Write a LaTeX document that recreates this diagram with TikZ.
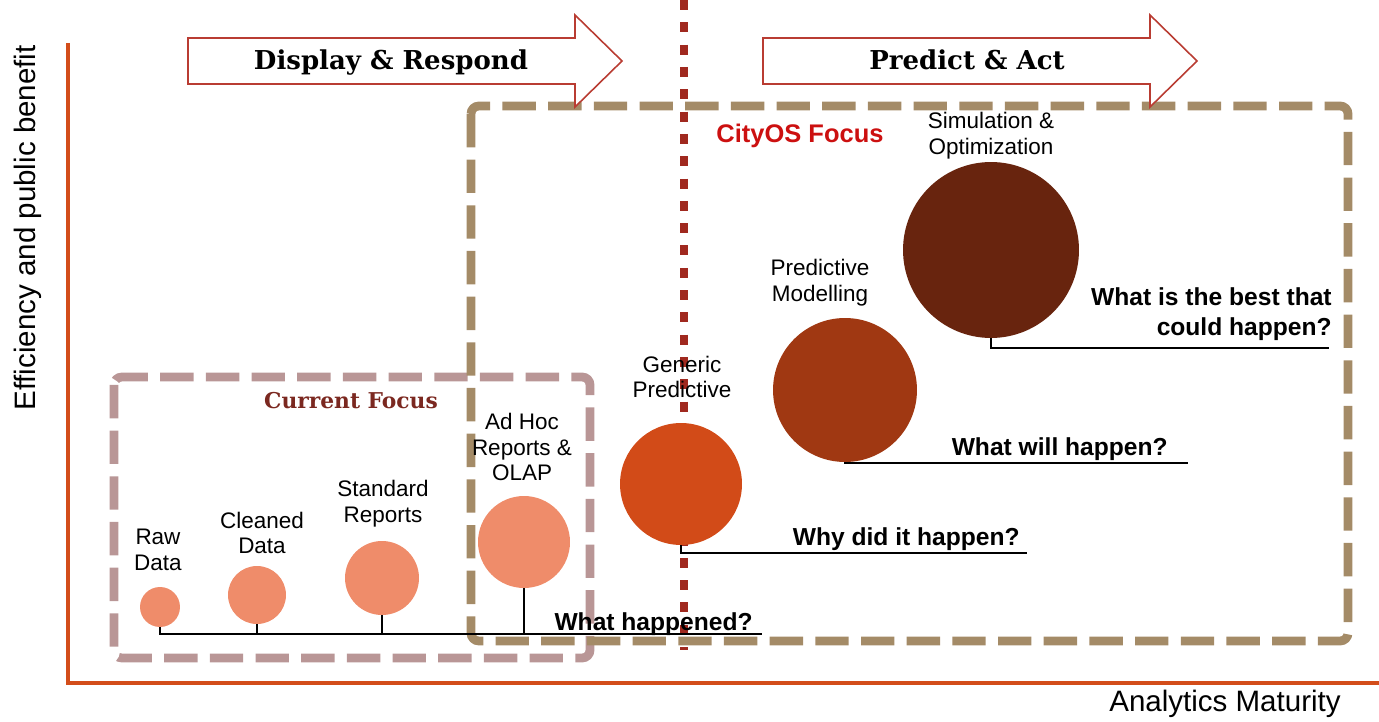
\documentclass[tikz,border=0pt]{standalone}
\usepackage{fontspec}
\setmainfont{Liberation Sans}
\newfontfamily\slabfont{DejaVu Serif}

\definecolor{axisorange}{RGB}{211,77,26}
\definecolor{arrowred}{RGB}{185,60,50}
\definecolor{dotred}{RGB}{160,41,31}
\definecolor{tanbrown}{RGB}{164,139,103}
\definecolor{mauve}{RGB}{185,150,150}
\definecolor{salmon}{RGB}{239,140,106}
\definecolor{rust}{RGB}{210,75,24}
\definecolor{brick}{RGB}{160,56,18}
\definecolor{chestnut}{RGB}{104,36,14}
\definecolor{cityred}{RGB}{204,16,16}
\definecolor{wine}{RGB}{123,40,32}

\tikzset{
	axis/.style={axisorange, line width=2.3pt},
	bigarrow/.style={draw=arrowred, fill=white, line width=0.9pt},
	divider/.style={dotred, line width=5pt, dash pattern=on 5.7pt off 7pt},
	focusbox/.style={line width=5pt, rounded corners=4.5pt, dash pattern=on 19pt off 7pt},
	bubble/.style={circle, inner sep=0pt, minimum size=#1},
	lbl/.style={align=center, font=\fontsize{12.8}{14.7}\selectfont},
	ask/.style={align=right, inner sep=0pt, font=\fontsize{14}{17}\selectfont\bfseries},
	stem/.style={black, line width=1.1pt},
	banner/.style={anchor=base, font=\fontsize{14.8}{17}\slabfont\bfseries}
}

\begin{document}
\begin{tikzpicture}[x=0.02cm, y=-0.02cm]
\useasboundingbox (0,0) rectangle (1379,722);

% axes
\draw [axis] (68,43) -- (68,683) -- (1379,683);
\node [rotate=90, font=\fontsize{16.8}{20}\selectfont] (yl) at (28,228) {Efficiency and public benefit};
\node [font=\fontsize{16.8}{20}\selectfont] (xl) at (1225,704) {Analytics Maturity};

% focus areas
\draw [focusbox, draw=mauve] (114,377) rectangle (590,658);
\draw [focusbox, draw=tanbrown] (471,106) rectangle (1348,641);
\node [font=\fontsize{12.4}{15}\slabfont\bfseries, text=wine] (cur) at (351,401) {Current Focus};
\node [font=\fontsize{14.5}{17}\selectfont\bfseries, text=cityred] (city) at (800,136) {CityOS Focus};

\draw [divider] (684,0) -- (684,650);

% phase arrows
\draw [bigarrow] (188,38) -- (575,38) -- (575,15) -- (622,61) -- (575,107) -- (575,84) -- (188,84) -- cycle;
\draw [bigarrow] (763,38) -- (1150,38) -- (1150,15) -- (1197,61) -- (1150,107) -- (1150,84) -- (763,84) -- cycle;
\node [banner] (dr) at (391,70) {Display \& Respond};
\node [banner] (pa) at (967,70) {Predict \& Act};

% stages
\node [bubble=0.8cm, fill=salmon] (raw) at (160,607) {};
\node [bubble=1.16cm, fill=salmon] (clean) at (257,595) {};
\node [bubble=1.48cm, fill=salmon] (std) at (382,578) {};
\node [bubble=1.84cm, fill=salmon] (adhoc) at (524,542) {};
\node [bubble=2.44cm, fill=rust] (gen) at (681,484) {};
\node [bubble=2.88cm, fill=brick] (pred) at (845,390) {};
\node [bubble=3.52cm, fill=chestnut] (sim) at (991,250) {};

\node [lbl] (rawl) at (158,550) {Raw\\Data};
\node [lbl] (cleanl) at (262,533) {Cleaned\\Data};
\node [lbl] (stdl) at (383,504) {Standard\\Reports};
\node [lbl] (adhocl) at (522,447) {Ad Hoc\\Reports \&\\OLAP};
\node [lbl] (genl) at (682,377) {Generic\\Predictive};
\node [lbl] (predl) at (820,283) {Predictive\\Modelling};
\node [lbl] (siml) at (991,136) {Simulation \&\\Optimization};

% questions
\coordinate (e1) at (762,634);
\coordinate (e2) at (1027,553);
\coordinate (e3) at (1188,463);
\coordinate (e4) at (1329,348);
\node [ask, anchor=base east] (q1) at (753,630) {What happened?};
\node [ask, anchor=base east] (q2) at (1020,545) {Why did it happen?};
\node [ask, anchor=base east] (q3) at (1168,456) {What will happen?};
\node [ask, anchor=south east] (q4) at (1332,341) {What is the best that\\could happen?};

\draw [stem] (raw.south) |- (e1);
\draw [stem] (clean.south) -- (clean.south |- e1);
\draw [stem] (std.south) -- (std.south |- e1);
\draw [stem] (adhoc.south) -- (adhoc.south |- e1);
\draw [stem] (gen.south) |- (e2);
\draw [stem] (pred.south) |- (e3);
\draw [stem] (sim.south) |- (e4);

\end{tikzpicture}
\end{document}
